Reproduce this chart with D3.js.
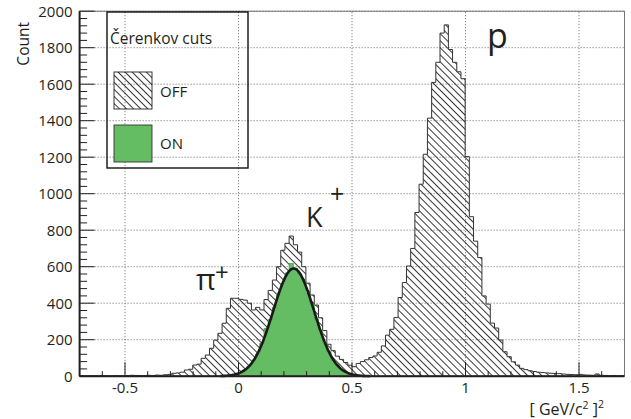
<!DOCTYPE html>
<html>
<head>
<meta charset="utf-8">
<script src="https://cdn.jsdelivr.net/npm/d3@7"></script>
<style>
body { margin: 0; background: #fff; }
svg text { font-family: "Open Sans", sans-serif; fill: #231f20; }
</style>
</head>
<body>
<div id="vis"></div>
<script>
// histogram binning (mass squared, GeV^2/c^4)
const xMin = -0.7, xMax = 1.7, nBins = 130

// Cerenkov cuts OFF, counts per bin
const offCounts = [
  2, 0, 1, 2, 1, 4, 2, 1, 3, 2,
  2, 3, 5, 4, 4, 3, 5, 4, 6, 5,
  8, 10, 16, 18, 22, 34, 38, 61, 66, 98,
  116, 153, 198, 235, 290, 372, 427, 427, 421, 417,
  400, 363, 377, 363, 420, 470, 527, 600, 690, 728,
  768, 720, 680, 600, 510, 445, 390, 320, 250, 175,
  140, 110, 92, 75, 60, 52, 70, 80, 90, 102,
  111, 131, 166, 225, 257, 321, 431, 513, 604, 700,
  897, 1052, 1216, 1414, 1610, 1720, 1880, 1925, 1790, 1720,
  1668, 1630, 1203, 874, 740, 650, 440, 395, 291, 264,
  198, 134, 107, 79, 61, 43, 36, 30, 26, 22,
  20, 18, 16, 15, 14, 12, 10, 9, 8, 10,
  7, 6, 5, 12, 5, 4, 3, 4, 2, 3
]

// Cerenkov cuts ON, counts per bin starting at bin onFirstBin
const onFirstBin = 34
const onCounts = [
  2, 3, 6, 12, 20, 36, 55, 88, 122, 180,
  262, 310, 378, 455, 508, 565, 618, 592, 560, 525,
  455, 395, 312, 252, 180, 135, 86, 62, 35, 24,
  12, 8, 4, 2, 1
]

// gaussian fit of the K+ peak
const fitMean = 0.243, fitSigma = 0.09, fitAmp = 590
const fitRange = [-0.08, 0.58]

const xTicks = [-0.5, 0, 0.5, 1, 1.5]
const xTickLabels = ["-0.5", "0", "0.5", "1", "1.5"]
const yTicks = [0, 200, 400, 600, 800, 1000, 1200, 1400, 1600, 1800, 2000]

const legendTitle = "Čerenkov cuts"
const legendLabels = ["OFF", "ON"]

const W = 631, H = 419
const margin = {left: 79.6, top: 11.2, right: 6.6, bottom: 42.8}

const svg = d3.select("#vis").append("svg")
    .attr("width", W)
    .attr("height", H)

const x = d3.scaleLinear().domain([xMin, xMax]).range([margin.left, W - margin.right])
const y = d3.scaleLinear().domain([0, 2000]).range([H - margin.bottom, margin.top])

// hatch pattern (ROOT style 3004-ish)
svg.append("defs").append("pattern")
    .attr("id", "hatch")
    .attr("patternUnits", "userSpaceOnUse")
    .attr("width", 5).attr("height", 5)
    .attr("patternTransform", "rotate(-45)")
  .append("line")
    .attr("x1", 2.5).attr("y1", -1).attr("x2", 2.5).attr("y2", 6)
    .attr("stroke", "#222").attr("stroke-width", 0.9)

// grid
const grid = svg.append("g").attr("stroke", "#444").attr("stroke-width", 0.8)
    .attr("stroke-dasharray", "1,2")
grid.selectAll(".gx").data(xTicks).enter().append("line")
    .attr("x1", d => x(d)).attr("x2", d => x(d))
    .attr("y1", y(0)).attr("y2", y(2000))
grid.selectAll(".gy").data(yTicks.slice(1)).enter().append("line")
    .attr("x1", x(xMin)).attr("x2", x(xMax))
    .attr("y1", d => y(d)).attr("y2", d => y(d))

const binW = (xMax - xMin) / nBins
function steps(counts, first) {
    let pts = counts.map((c, i) => [xMin + (first + i) * binW, c])
    pts.push([xMin + (first + counts.length) * binW, counts[counts.length - 1]])
    return pts
}
const area = d3.area().curve(d3.curveStepAfter)
    .x(d => x(d[0])).y0(y(0)).y1(d => y(d[1]))

// OFF histogram
svg.append("path")
    .attr("d", area(steps(offCounts, 0)))
    .attr("fill", "url(#hatch)")
    .attr("stroke", "#333").attr("stroke-width", 1)

// ON histogram
svg.append("path")
    .attr("d", area(steps(onCounts, onFirstBin)))
    .attr("fill", "#64bd63")
    .attr("stroke", "#4c9a4b").attr("stroke-width", 0.8)

// fit curve
const fitPts = d3.range(fitRange[0], fitRange[1], 0.002).map(v =>
    [v, fitAmp * Math.exp(-0.5 * Math.pow((v - fitMean) / fitSigma, 2))])
svg.append("path")
    .attr("d", d3.line().x(d => x(d[0])).y(d => y(d[1]))(fitPts))
    .attr("fill", "none").attr("stroke", "#1a1a1a").attr("stroke-width", 2.6)

// frame
svg.append("rect")
    .attr("x", x(xMin)).attr("y", y(2000))
    .attr("width", x(xMax) - x(xMin)).attr("height", y(0) - y(2000))
    .attr("fill", "none").attr("stroke", "#555").attr("stroke-width", 0.8)

// y axis
const yAxis = svg.append("g")
yAxis.append("line").attr("x1", x(xMin)).attr("x2", x(xMin))
    .attr("y1", y(0)).attr("y2", y(2000)).attr("stroke", "#231f20").attr("stroke-width", 2)
yAxis.selectAll(".ymin").data(d3.range(0, 2001, 40)).enter().append("line")
    .attr("x1", x(xMin)).attr("x2", d => x(xMin) + (d % 200 === 0 ? 15 : 7.5))
    .attr("y1", d => y(d)).attr("y2", d => y(d))
    .attr("stroke", "#231f20").attr("stroke-width", 1)
yAxis.selectAll("text").data(yTicks).enter().append("text")
    .attr("x", x(xMin) - 7).attr("y", d => y(d) + 5.3)
    .attr("text-anchor", "end").attr("font-size", 15)
    .text(d => d)
svg.append("text")
    .attr("transform", "translate(29,22) rotate(-90)")
    .attr("text-anchor", "end").attr("font-size", 15.5)
    .text("Count")

// x axis
const xAxis = svg.append("g")
xAxis.append("line").attr("x1", x(xMin)).attr("x2", x(xMax))
    .attr("y1", y(0)).attr("y2", y(0)).attr("stroke", "#231f20").attr("stroke-width", 2)
xAxis.selectAll(".xmin").data(d3.range(-6, 17)).enter().append("line")
    .attr("x1", d => x(d / 10)).attr("x2", d => x(d / 10))
    .attr("y1", y(0)).attr("y2", d => y(0) - (d % 5 === 0 ? 14 : 5))
    .attr("stroke", "#231f20").attr("stroke-width", 1)
xAxis.selectAll("text").data(xTicks).enter().append("text")
    .attr("x", d => x(d)).attr("y", 393)
    .attr("text-anchor", "middle").attr("font-size", 15)
    .text((d, i) => xTickLabels[i])
const xTitle = svg.append("text")
    .attr("x", 604).attr("y", 415)
    .attr("text-anchor", "end").attr("font-size", 16)
xTitle.append("tspan").text("[ GeV/c")
xTitle.append("tspan").attr("dy", -6).attr("font-size", 10.5).text("2")
xTitle.append("tspan").attr("dy", 6).text(" ]")
xTitle.append("tspan").attr("dy", -7).attr("font-size", 10.5).text("2")

// peak labels
svg.append("text").attr("x", 487).attr("y", 48).attr("font-size", 34).text("p")
svg.append("text").attr("x", 306).attr("y", 227).attr("font-size", 27).text("K")
svg.append("text").attr("x", 330).attr("y", 203).attr("font-size", 25).text("+")
svg.append("text").attr("x", 196).attr("y", 290).attr("font-size", 30).text("π")
svg.append("text").attr("x", 215).attr("y", 281).attr("font-size", 24).text("+")

// legend
const leg = svg.append("g")
leg.append("rect").attr("x", 107).attr("y", 12).attr("width", 141).attr("height", 156)
    .attr("fill", "none").attr("stroke", "#111").attr("stroke-width", 1.4)
leg.append("text").attr("x", 110).attr("y", 44).attr("font-size", 15.5).text(legendTitle)
leg.append("rect").attr("x", 114).attr("y", 72).attr("width", 38).attr("height", 37)
    .attr("fill", "url(#hatch)").attr("stroke", "#222").attr("stroke-width", 0.9)
leg.append("rect").attr("x", 114).attr("y", 125).attr("width", 38).attr("height", 37)
    .attr("fill", "#64bd63").attr("stroke", "#333").attr("stroke-width", 0.9)
leg.selectAll(".lab").data(legendLabels).enter().append("text")
    .attr("x", 160).attr("y", (d, i) => 97 + i * 52)
    .attr("font-size", 15).text(d => d)
</script>
</body>
</html>
